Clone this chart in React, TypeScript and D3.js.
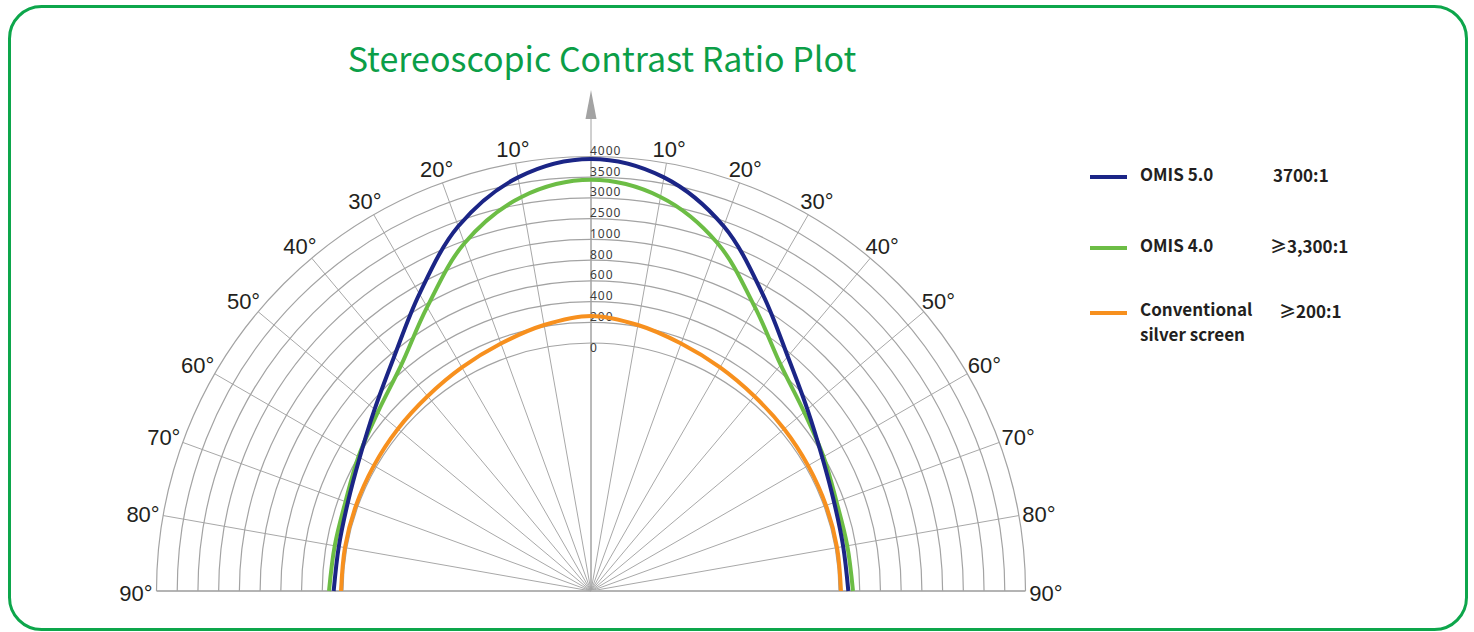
import * as React from "react";
import { select, scaleLinear, lineRadial, curveCatmullRom, path, range } from "d3";

// angle from the vertical axis, degrees (left side negative)
const angles = [-90, -80, -70, -60, -50, -40, -30, -20, -10, 0, 10, 20, 30, 40, 50, 60, 70, 80, 90];
const omis5 = [90, 78, 104, 184, 333, 561, 918, 2880, 3650, 3940, 3650, 2880, 918, 561, 333, 184, 104, 78, 90];
const omis4 = [135, 118, 128, 198, 292, 455, 770, 2340, 3170, 3437, 3170, 2340, 770, 455, 292, 198, 128, 118, 135];
const silver = [19, 18, 20, 26, 40, 60, 98, 148, 213, 261, 213, 148, 98, 60, 40, 26, 20, 18, 19];

const ringValues = [0, 200, 400, 600, 800, 1000, 2500, 3000, 3500, 4000];
const degreeTicks = [-90, -80, -70, -60, -50, -40, -30, -20, -10, 10, 20, 30, 40, 50, 60, 70, 80, 90];

const seriesNames = [["OMIS 5.0"], ["OMIS 4.0"], ["Conventional", "silver screen"]];
const seriesRatios = ["3700:1", "≥3,300:1", "≥200:1"];
const seriesColors = ["#1b2586", "#6cbd45", "#f7901e"];
const seriesData = [omis5, omis4, silver];

const title = "Stereoscopic Contrast Ratio Plot";

export default function App() {
    const svgRef = React.useRef<SVGSVGElement>(null);
    const width = 1474;
    const height = 632;
    const cx = 591;
    const cy = 591;
    const innerR = 248;
    const outerR = 434.5;

    React.useEffect(() => {
        const svg = select(svgRef.current);
        svg.selectAll(".plot").remove();
        const g = svg.append("g")
            .attr("class", "plot")
            .attr("transform", `translate(${cx},${cy})`);

        const step = (outerR - innerR) / (ringValues.length - 1);
        const rScale = scaleLinear()
            .domain(ringValues)
            .range(ringValues.map((_, i) => innerR + i * step));
        const rad = (deg: number) => (deg * Math.PI) / 180;

        // spokes every 10 degrees
        g.selectAll(".spoke")
            .data(range(-90, 91, 10))
            .join("line")
            .attr("class", "spoke")
            .attr("x1", 0)
            .attr("y1", 0)
            .attr("x2", a => outerR * Math.sin(rad(a)))
            .attr("y2", a => -outerR * Math.cos(rad(a)))
            .attr("stroke", a => (Math.abs(a) === 90 ? "#b4b4b4" : "#a8a8a8"))
            .attr("stroke-width", a => (Math.abs(a) === 90 ? 2 : 1));

        // rings
        g.selectAll(".ring")
            .data(ringValues)
            .join("path")
            .attr("class", "ring")
            .attr("d", v => {
                const p = path();
                p.arc(0, 0, rScale(v), Math.PI, 2 * Math.PI);
                return p.toString();
            })
            .attr("fill", "none")
            .attr("stroke", "#a3a3a3")
            .attr("stroke-width", 1.2);

        // vertical axis + arrow
        g.append("line")
            .attr("x1", 0).attr("y1", 0)
            .attr("x2", 0).attr("y2", -472)
            .attr("stroke", "#a0a0a0")
            .attr("stroke-width", 1);
        g.append("path")
            .attr("d", "M0,-501L-5.5,-472L5.5,-472Z")
            .attr("fill", "#a3a3a3");

        // radial value labels
        g.selectAll(".rlabel")
            .data(ringValues)
            .join("text")
            .attr("class", "rlabel")
            .attr("x", -1)
            .attr("y", v => -rScale(v) + (v === 0 ? 9 : -1.5))
            .attr("font-family", "'Noto Sans', sans-serif")
            .attr("font-size", 12)
            .attr("letter-spacing", 1)
            .attr("fill", "#3c3c3c")
            .text(v => String(v));

        // degree labels
        g.selectAll(".dlabel")
            .data(degreeTicks)
            .join("text")
            .attr("class", "dlabel")
            .attr("x", a => (449 + 6 * Math.abs(Math.sin(rad(a)))) * Math.sin(rad(a)))
            .attr("y", a => -(449 + 6 * Math.abs(Math.sin(rad(a)))) * Math.cos(rad(a)) + 2)
            .attr("text-anchor", "middle")
            .attr("dominant-baseline", "central")
            .attr("font-family", "'Liberation Sans', Arial, sans-serif")
            .attr("font-size", 22)
            .attr("fill", "#231f20")
            .text(a => `${Math.abs(a)}°`);

        // curves
        const line = lineRadial<number>()
            .angle((_, i) => rad(angles[i]))
            .radius(v => rScale(v))
            .curve(curveCatmullRom.alpha(0.5));

        const order = [2, 1, 0];
        g.selectAll(".series")
            .data(order)
            .join("path")
            .attr("class", "series")
            .attr("d", i => line(seriesData[i]))
            .attr("fill", "none")
            .attr("stroke", i => seriesColors[i])
            .attr("stroke-width", 4);
    }, []);

    const legendY = [177, 248, 313];

    return (
        <svg
            ref={svgRef}
            width={width}
            height={height}
            style={{ position: "absolute", left: 0, top: 0, background: "#fff" }}
        >
            <rect x={9.5} y={6.5} width={1457} height={623} rx={32} ry={32}
                fill="none" stroke="#0da64b" strokeWidth={3} />
            <text x={602} y={72} textAnchor="middle" fontFamily="'Noto Sans CJK SC', sans-serif"
                fontSize={34} fill="#0b9e47">{title}</text>
            {seriesNames.map((lines, i) => (
                <g key={lines[0]} fontFamily="'Noto Sans CJK SC', sans-serif" fontWeight={700}
                    fontSize={17} fill="#231f20">
                    <line x1={1090} x2={1127} y1={legendY[i]} y2={legendY[i]}
                        stroke={seriesColors[i]} strokeWidth={4} />
                    {lines.map((part, j) => (
                        <text key={j} x={1140} y={legendY[i] + 4 - (lines.length - 1) + j * 25}>{part}</text>
                    ))}
                    <text x={[1273, 1270, 1279][i]} y={legendY[i] + 5}>{seriesRatios[i]}</text>
                </g>
            ))}
        </svg>
    );
}
